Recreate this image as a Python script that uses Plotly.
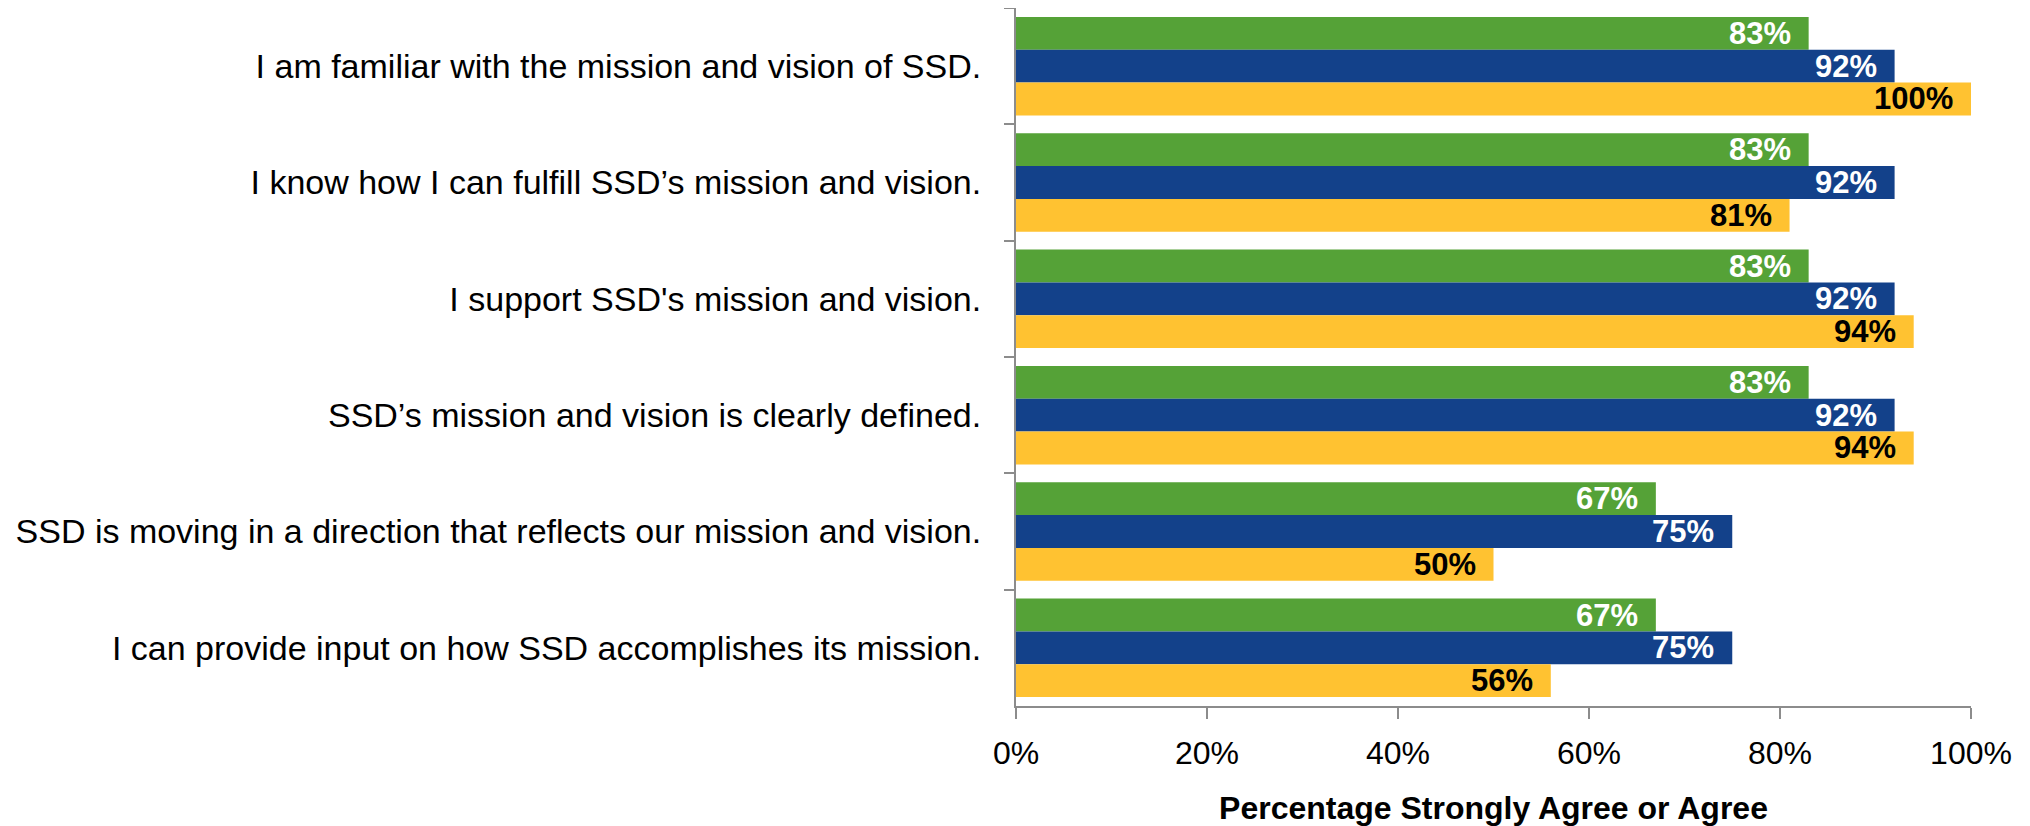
import plotly.graph_objects as go

categories = [
    "I am familiar with the mission and vision of SSD.",
    "I know how I can fulfill SSD’s mission and vision.",
    "I support SSD's mission and vision.",
    "SSD’s mission and vision is clearly defined.",
    "SSD is moving in a direction that reflects our mission and vision.",
    "I can provide input on how SSD accomplishes its mission.",
]
series_names = ["Series A", "Series B", "Series C"]
green_vals = [83, 83, 83, 83, 67, 67]
blue_vals = [92, 92, 92, 92, 75, 75]
yellow_vals = [100, 81, 94, 94, 50, 56]
x_ticks = [0, 20, 40, 60, 80, 100]
x_tick_labels = ["0%", "20%", "40%", "60%", "80%", "100%"]

colors = ["#55A237", "#13418A", "#FFC231"]
label_colors = ["white", "white", "black"]
FONT = "Liberation Sans"

# page body has an 8px margin, so the figure is placed at (8, 8)
W, H = 2022, 818
ml, mr, mt, mb = 1008, 59, 0, 120
bargap = 0.154

fig = go.Figure()
all_vals = [green_vals, blue_vals, yellow_vals]
for name, vals, col in zip(series_names, all_vals, colors):
    fig.add_trace(go.Bar(
        y=categories, x=vals, orientation="h", name=name,
        marker=dict(color=col, line=dict(width=0)),
        hoverinfo="x+y",
    ))

plot_h = H - mt - mb
band = plot_h / len(categories)
bar_px = band * (1 - bargap) / 3
offsets = [bar_px, 0, -bar_px]

for vals, off, lc in zip(all_vals, offsets, label_colors):
    for cat, v in zip(categories, vals):
        fig.add_annotation(
            x=v, y=cat, xref="x", yref="y",
            text=f"<b>{v}%</b>", showarrow=False,
            xanchor="right", yanchor="middle",
            xshift=-16, yshift=off,
            font=dict(family=FONT, size=31, color=lc),
        )

fig.update_layout(
    width=W, height=H,
    margin=dict(l=ml, r=mr, t=mt, b=mb),
    paper_bgcolor="white", plot_bgcolor="white",
    barmode="group", bargap=bargap, bargroupgap=0,
    showlegend=False,
    font=dict(family=FONT, size=32, color="black"),
)
fig.update_xaxes(
    range=[0, 100], tickvals=x_ticks, ticktext=x_tick_labels,
    showgrid=False, zeroline=False,
    showline=True, linecolor="#8C8C8C", linewidth=2,
    ticks="outside", ticklen=11, tickwidth=2, tickcolor="#8C8C8C",
    tickfont=dict(family=FONT, size=32, color="black"),
    ticklabelstandoff=7,
    title=dict(text="<b>Percentage Strongly Agree or Agree</b>",
               font=dict(family=FONT, size=32, color="black"), standoff=29),
)
fig.update_yaxes(
    autorange="reversed", type="category",
    showgrid=False, zeroline=False,
    showline=True, linecolor="#8C8C8C", linewidth=2,
    ticks="outside", ticklen=10, tickwidth=2, tickcolor="#8C8C8C",
    tickson="boundaries",
    tickfont=dict(family=FONT, size=34, color="black"),
    ticklabelstandoff=26,
)

fig.write_html("out.html")
